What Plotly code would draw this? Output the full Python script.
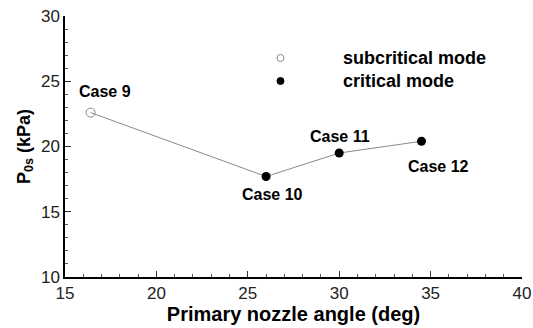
import plotly.graph_objects as go

# Data
cases = ["Case 9", "Case 10", "Case 11", "Case 12"]
angle = [16.4, 26.0, 30.0, 34.5]
p0s = [22.6, 17.7, 19.5, 20.4]
mode = ["subcritical", "critical", "critical", "critical"]
# label offsets in pixels (xshift, yshift)
label_shift = [(14, 21), (6, -18), (1, 17), (17, -25)]

x_ticks = [15, 20, 25, 30, 35, 40]
y_ticks = [10, 15, 20, 25, 30]

FONT = "Liberation Sans, Arial, sans-serif"
GRAY = "#8a8a8a"

fig = go.Figure()

fig.add_trace(go.Scatter(x=angle, y=p0s, mode="lines",
                         line=dict(color=GRAY, width=1), showlegend=False,
                         hoverinfo="skip"))

sx = [a for a, m in zip(angle, mode) if m == "subcritical"]
sy = [p for p, m in zip(p0s, mode) if m == "subcritical"]
cx = [a for a, m in zip(angle, mode) if m == "critical"]
cy = [p for p, m in zip(p0s, mode) if m == "critical"]

fig.add_trace(go.Scatter(x=sx, y=sy, mode="markers", name="subcritical mode",
                         marker=dict(symbol="circle-open", size=9,
                                     color=GRAY, line=dict(width=1, color=GRAY)),
                         showlegend=False))
fig.add_trace(go.Scatter(x=cx, y=cy, mode="markers", name="critical mode",
                         marker=dict(symbol="circle", size=9, color="black"),
                         showlegend=False))

for c, a, p, (dx, dy) in zip(cases, angle, p0s, label_shift):
    fig.add_annotation(x=a, y=p, text="<b>%s</b>" % c, showarrow=False,
                       xshift=dx, yshift=dy,
                       font=dict(family=FONT, size=16, color="black"))

# Custom legend (markers as pixel-size shapes, text as annotations)
legend_items = [("subcritical mode", "open"), ("critical mode", "filled")]
leg_x = 0.4715  # paper x of markers
leg_y0 = 0.839  # paper y of first item
leg_dy = 0.088
for i, (name, kind) in enumerate(legend_items):
    yy = leg_y0 - i * leg_dy
    fig.add_shape(type="circle", xref="paper", yref="paper",
                  xsizemode="pixel", ysizemode="pixel",
                  xanchor=leg_x, yanchor=yy, x0=-3.5, x1=3.5, y0=-3.5, y1=3.5,
                  line=dict(color=GRAY if kind == "open" else "black", width=1),
                  fillcolor="white" if kind == "open" else "black")
    fig.add_annotation(xref="paper", yref="paper", x=0.603, y=yy,
                       xanchor="left", yanchor="middle", showarrow=False,
                       text="<b>%s</b>" % name,
                       font=dict(family=FONT, size=18, color="black"))

axis_common = dict(showline=True, linecolor="black", linewidth=1.5,
                   ticks="inside", ticklen=6, tickwidth=1, tickcolor="#333",
                   showgrid=False, zeroline=False, mirror=False,
                   automargin=False,
                   tickfont=dict(family=FONT, size=17, color="#222"))

fig.update_xaxes(range=[15, 40], tickvals=x_ticks, **axis_common,
                 minor=dict(ticks="inside", ticklen=3, dtick=1, tickcolor="#555"),
                 title=dict(text="<b>Primary nozzle angle (deg)</b>",
                            font=dict(family=FONT, size=20, color="black"),
                            standoff=4))
fig.update_yaxes(range=[10, 30], tickvals=y_ticks, **axis_common,
                 minor=dict(ticks="inside", ticklen=3, dtick=1, tickcolor="#555"),
                 title=dict(text="<b>P<sub>0s</sub> (kPa)</b>",
                            font=dict(family=FONT, size=18, color="black"),
                            standoff=6))

fig.update_layout(width=533, height=328,
                  margin=dict(l=65, r=10.5, t=16, b=50.5, pad=0),
                  plot_bgcolor="white", paper_bgcolor="white",
                  showlegend=False)

fig.write_html("out.html")
